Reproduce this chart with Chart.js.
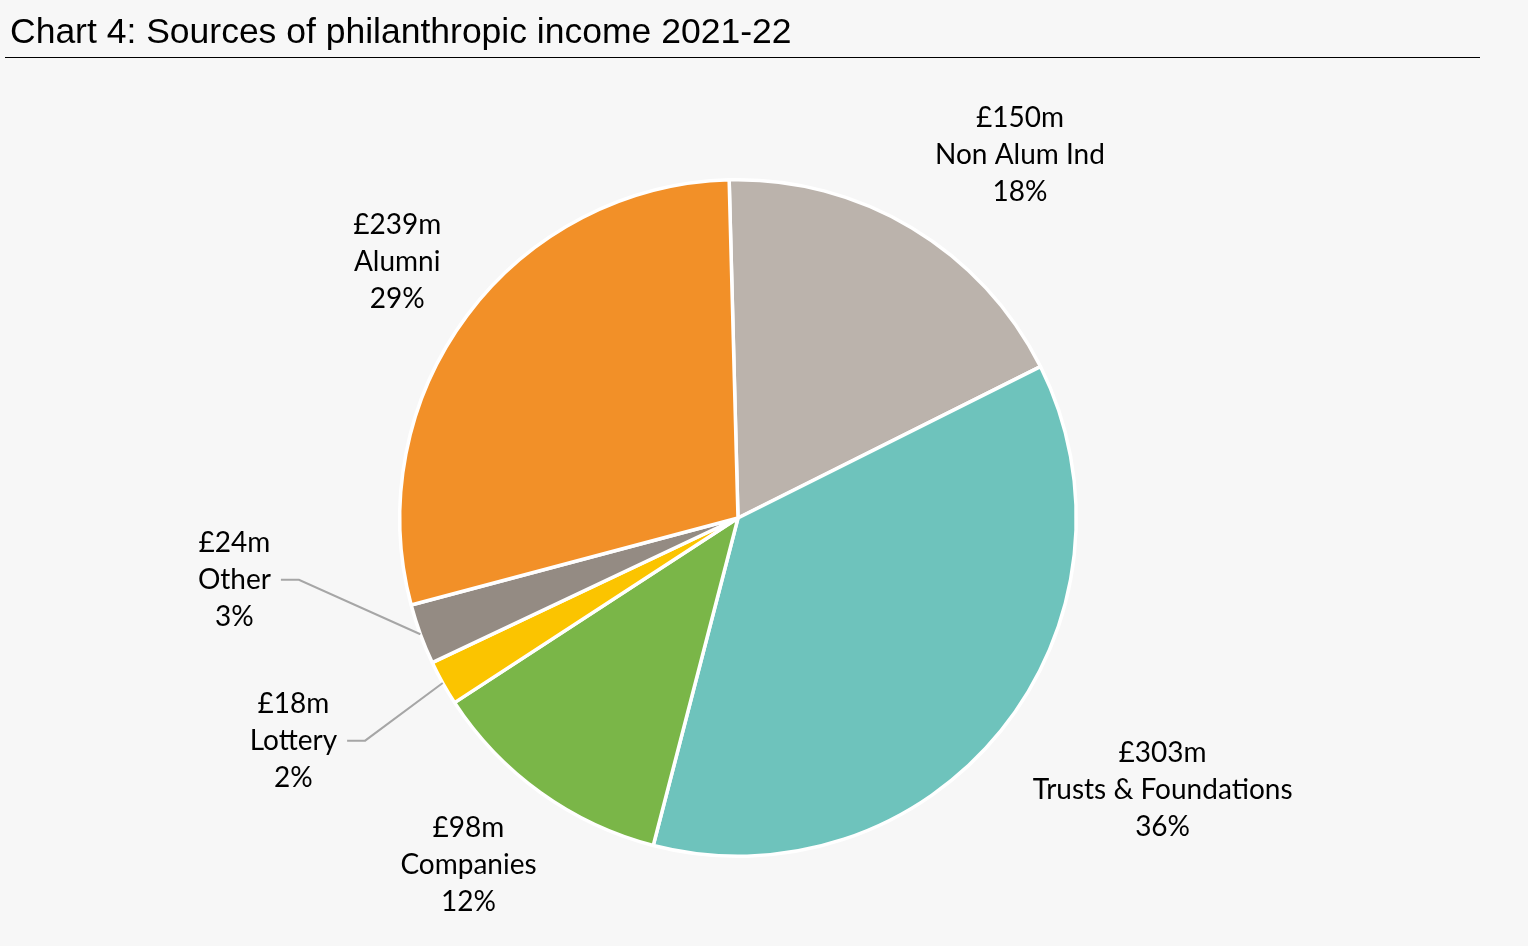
<!DOCTYPE html>
<html>
<head>
<meta charset="utf-8">
<script src="https://cdn.jsdelivr.net/npm/chart.js@4.4.0/dist/chart.umd.min.js"></script>
<style>
  html, body { margin: 0; padding: 0; background: #f7f7f7; }
  #wrap { position: relative; width: 1528px; height: 946px; }
  #title {
    position: absolute; left: 10px; top: 11px;
    font-family: "Liberation Sans", Arial, sans-serif;
    font-size: 35.5px; color: #000; white-space: nowrap;
  }
  #rule { position: absolute; left: 5px; top: 57px; width: 1475px; height: 1px; background: #000; }
</style>
</head>
<body>
<div id="wrap">
  <div id="title">Chart 4: Sources of philanthropic income 2021-22</div>
  <div id="rule"></div>
  <canvas id="pieChart" width="1528" height="946"></canvas>
</div>
<script>
// data (clockwise from top)
var categories = ['Non Alum Ind', 'Trusts & Foundations', 'Companies', 'Lottery', 'Other', 'Alumni'];
var amounts = [150, 303, 98, 18, 24, 239];      // £m
var percents = [18, 36, 12, 2, 3, 29];          // % as printed
var colours = ['#bbb3ac', '#6ec3bc', '#7ab648', '#fbc400', '#948b83', '#f29028'];

// label placement: angle (deg from top, clockwise) and distance in radii from centre
var labelPos = [
    { a: 37.8, d: 1.36 },
    { a: 122.6, d: 1.49 },
    { a: 217.8, d: 1.30 },
    { a: 243.4, d: 1.47, leader: true },
    { a: 263.0, d: 1.50, leader: true },
    { a: 306.9, d: 1.26 }
];

var labelPlugin = {
    id: 'outLabels',
    afterDatasetsDraw: function (chart) {
        var ctx = chart.ctx;
        var meta = chart.getDatasetMeta(0);
        ctx.save();
        ctx.font = '28px Lato, "Open Sans", sans-serif';
        ctx.fillStyle = '#000';
        ctx.textAlign = 'center';
        ctx.textBaseline = 'middle';
        meta.data.forEach(function (arc, i) {
            var cx = arc.x, cy = arc.y, r = arc.outerRadius;
            var p = labelPos[i];
            var ang = p.a * Math.PI / 180;
            var lx = cx + Math.sin(ang) * r * p.d;
            var ly = cy - Math.cos(ang) * r * p.d;
            if (p.leader) {
                var mid = (arc.startAngle + arc.endAngle) / 2;
                var sx = cx + Math.cos(mid) * r;
                var sy = cy + Math.sin(mid) * r;
                var w = ctx.measureText(categories[i]).width;
                var ex = lx + w / 2 + 10;
                ctx.strokeStyle = '#a6a6a6';
                ctx.lineWidth = 2;
                ctx.beginPath();
                ctx.moveTo(sx, sy);
                ctx.lineTo(ex + 18, ly);
                ctx.lineTo(ex, ly);
                ctx.stroke();
            }
            var lines = ['£' + amounts[i] + 'm', categories[i], percents[i] + '%'];
            lines.forEach(function (t, k) {
                ctx.fillText(t, lx, ly + (k - 1) * 37);
            });
        });
        ctx.restore();
    }
};

var pieCanvas = document.getElementById('pieChart').getContext('2d');

new Chart(pieCanvas, {
    type: 'pie',
    data: {
        labels: categories,
        datasets: [{
            data: amounts,
            backgroundColor: colours,
            borderColor: '#ffffff',
            borderWidth: 3.5
        }]
    },
    options: {
        responsive: false,
        animation: false,
        rotation: -1.5,
        layout: { padding: { left: 398, right: 450, top: 178, bottom: 88 } },
        plugins: {
            legend: { display: false },
            tooltip: { enabled: false }
        }
    },
    plugins: [labelPlugin]
});
</script>
</body>
</html>
